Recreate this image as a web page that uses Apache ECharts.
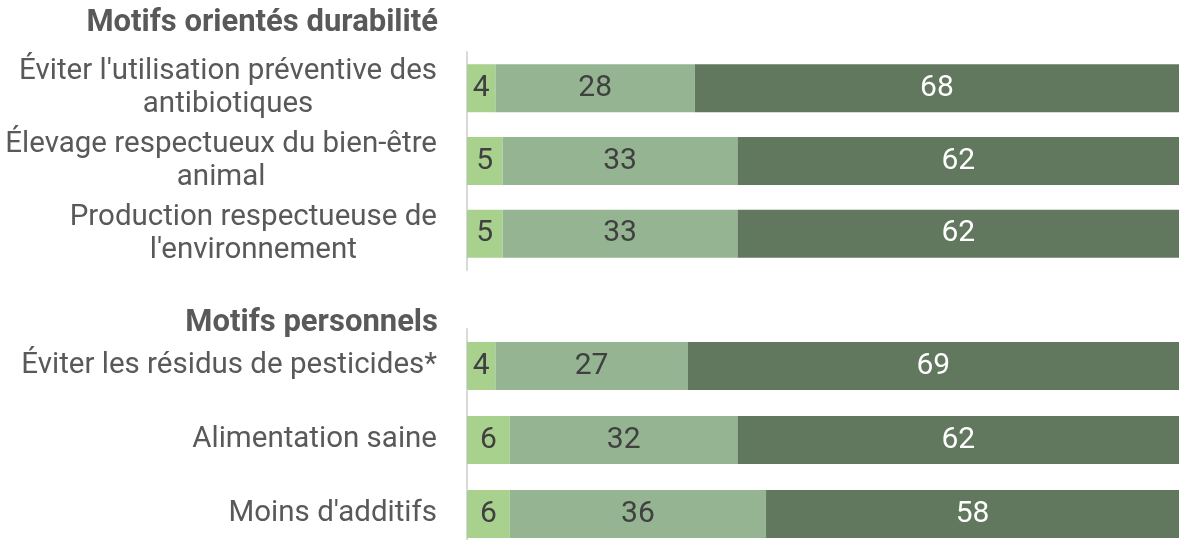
<!DOCTYPE html>
<html><head><meta charset="utf-8">
<script src="https://cdn.jsdelivr.net/npm/echarts@6/dist/echarts.min.js"></script>
<style>html,body{margin:0;padding:0;background:#fff}#c{width:1179px;height:540px}</style>
</head><body><div id="c"></div>
<script>
const groupTitles = ["Motifs orientés durabilité", "Motifs personnels"];
const cats1 = ["Éviter l'utilisation préventive des\nantibiotiques", "Élevage respectueux du bien-être\nanimal", "Production respectueuse de\nl'environnement"];
const low1 = [4, 5, 5];
const mid1 = [28, 33, 33];
const high1 = [68, 62, 62];
const cats2 = ["Éviter les résidus de pesticides*", "Alimentation saine", "Moins d'additifs"];
const low2 = [4, 6, 6];
const mid2 = [27, 32, 36];
const high2 = [69, 62, 58];

const colors = ['#a9d18e', '#94b492', '#61775e'];
const labelColors = ['#404040', '#404040', '#ffffff'];
const FONT = 'Roboto';
const LABEL_SIZE = 29.5;

// measure text width to center multi-line labels inside their own block
const mctx = document.createElement('canvas').getContext('2d');
mctx.font = LABEL_SIZE + 'px ' + FONT;
function blockWidth(s) {
  return Math.max(...s.split('\n').map(l => mctx.measureText(l).width));
}
function catItems(list) {
  return list.map(s => {
    if (s.indexOf('\n') < 0) return s;
    return {value: s, textStyle: {align: 'center', padding: [0, blockWidth(s), 0, 0]}};
  });
}

function catAxis(idx, data) {
  return {
    type: 'category', gridIndex: idx, data: catItems(data), inverse: true,
    axisLine: {show: true, lineStyle: {color: '#d9d9d9', width: 2}},
    axisTick: {show: false},
    axisLabel: {
      interval: 0, hideOverlap: false,
      margin: 30, align: 'right', fontFamily: FONT, fontSize: LABEL_SIZE, color: '#595959', lineHeight: 33
    }
  };
}
function valAxis(idx) {
  return {type: 'value', gridIndex: idx, min: 0, max: 100, show: false};
}
function bars(idx, arrs) {
  return arrs.map((d, i) => ({
    type: 'bar', stack: 'g' + idx, xAxisIndex: idx, yAxisIndex: idx, data: d,
    barWidth: 48, itemStyle: {color: colors[i]},
    label: {show: true, position: 'inside', fontFamily: FONT, fontSize: 30, color: labelColors[i]},
    silent: true, animation: false
  }));
}

const titleStyle = {fontFamily: FONT, fontSize: 31, fontWeight: 'bold', color: '#595959', lineHeight: 31};
const chart = echarts.init(document.getElementById('c'), null, {renderer: 'canvas'});
chart.setOption({
  animation: false,
  title: [
    {text: groupTitles[0], right: 741, top: 8, padding: 0, textStyle: titleStyle},
    {text: groupTitles[1], right: 741, top: 308, padding: 0, textStyle: titleStyle}
  ],
  grid: [
    {left: 467, right: 0, top: 52, height: 218, outerBoundsMode: 'none', containLabel: false},
    {left: 467, right: 0, top: 329, height: 222, outerBoundsMode: 'none', containLabel: false}
  ],
  xAxis: [valAxis(0), valAxis(1)],
  yAxis: [catAxis(0, cats1), catAxis(1, cats2)],
  series: [...bars(0, [low1, mid1, high1]), ...bars(1, [low2, mid2, high2])]
});
</script></body></html>
